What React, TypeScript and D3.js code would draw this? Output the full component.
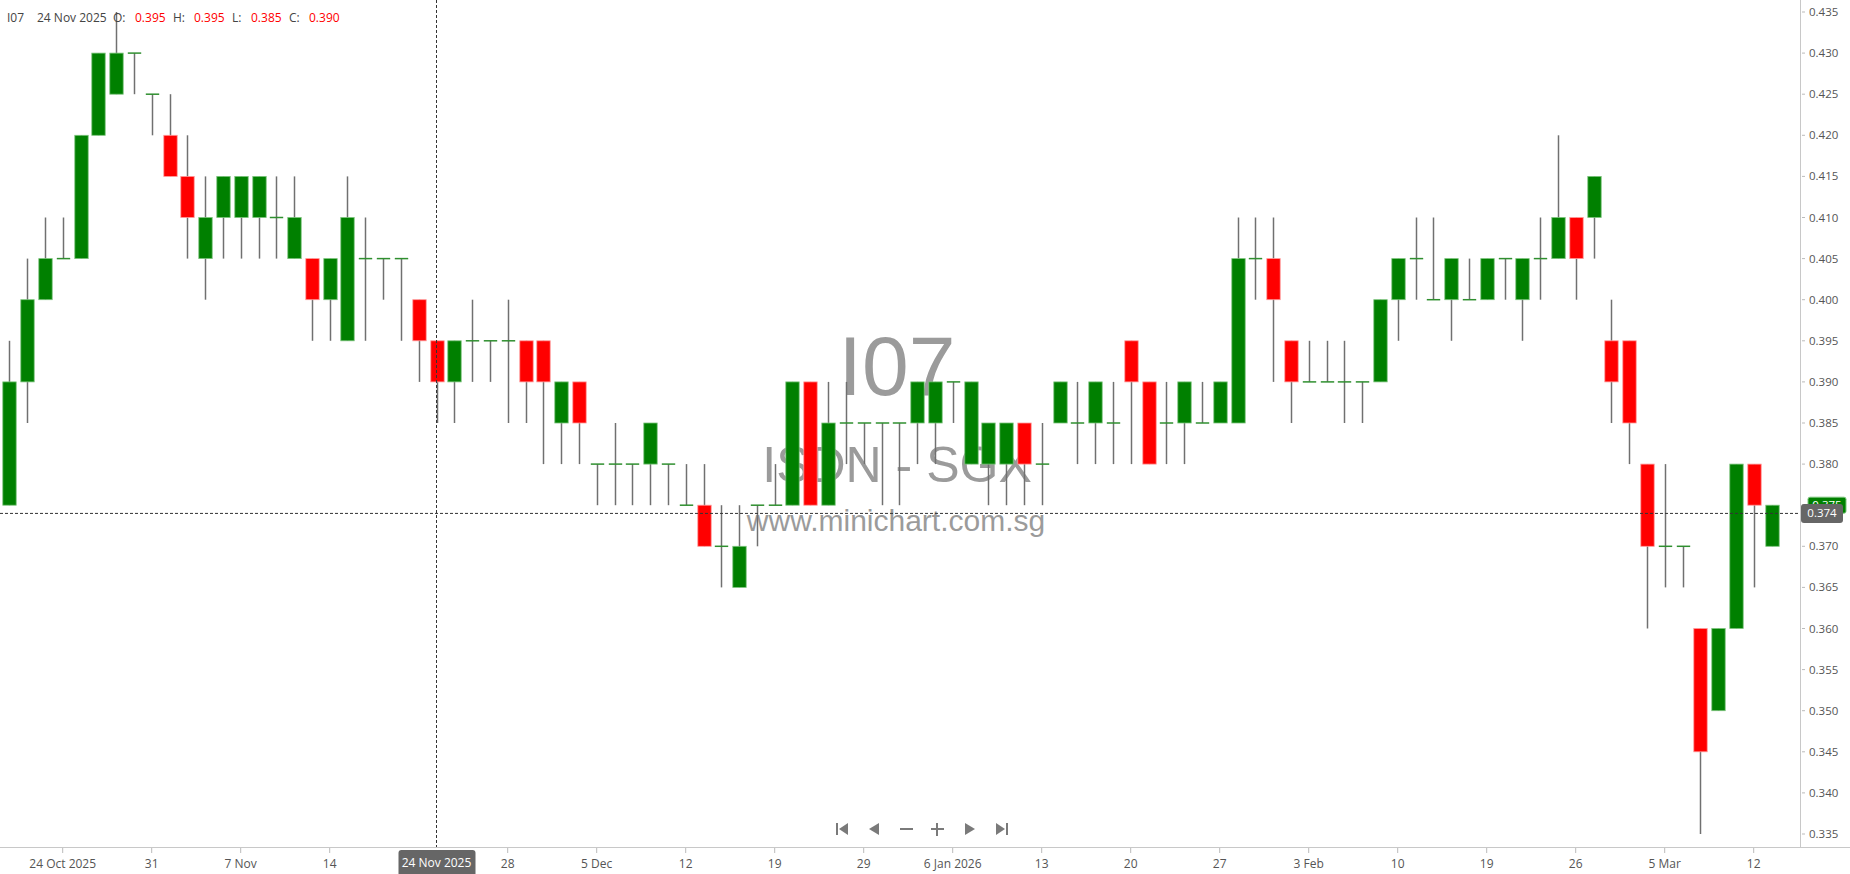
import React from "react";
import * as d3 from "d3";

// ---- data ----
const dates: string[] = [
  "2025-10-21","2025-10-22","2025-10-23","2025-10-24","2025-10-27","2025-10-28","2025-10-29","2025-10-30","2025-10-31",
  "2025-11-03","2025-11-04","2025-11-05","2025-11-06","2025-11-07","2025-11-10","2025-11-11","2025-11-12","2025-11-13","2025-11-14",
  "2025-11-17","2025-11-18","2025-11-19","2025-11-20","2025-11-21","2025-11-24","2025-11-25","2025-11-26","2025-11-27","2025-11-28",
  "2025-12-01","2025-12-02","2025-12-03","2025-12-04","2025-12-05","2025-12-08","2025-12-09","2025-12-10","2025-12-11","2025-12-12",
  "2025-12-15","2025-12-16","2025-12-17","2025-12-18","2025-12-19","2025-12-22","2025-12-23","2025-12-24","2025-12-26",
  "2025-12-29","2025-12-30","2025-12-31","2026-01-02","2026-01-05","2026-01-06","2026-01-07","2026-01-08","2026-01-09",
  "2026-01-12","2026-01-13","2026-01-14","2026-01-15","2026-01-16","2026-01-19","2026-01-20","2026-01-21","2026-01-22","2026-01-23",
  "2026-01-26","2026-01-27","2026-01-28","2026-01-29","2026-01-30","2026-02-02","2026-02-03","2026-02-04","2026-02-05","2026-02-06",
  "2026-02-09","2026-02-10","2026-02-11","2026-02-12","2026-02-13","2026-02-16","2026-02-19","2026-02-20",
  "2026-02-23","2026-02-24","2026-02-25","2026-02-26","2026-02-27","2026-03-02","2026-03-03","2026-03-04","2026-03-05","2026-03-06",
  "2026-03-09","2026-03-10","2026-03-11","2026-03-12","2026-03-13",
];

const opens: number[] = [
  0.375,0.390,0.400,0.405,0.405,0.420,0.425,0.430,0.425,0.420,
  0.415,0.405,0.410,0.410,0.410,0.410,0.405,0.405,0.400,0.395,
  0.405,0.405,0.405,0.400,0.395,0.390,0.395,0.395,0.395,0.395,
  0.395,0.385,0.390,0.380,0.380,0.380,0.380,0.380,0.375,0.375,
  0.370,0.365,0.375,0.375,0.375,0.390,0.375,0.385,0.385,0.385,
  0.385,0.385,0.385,0.390,0.380,0.380,0.380,0.385,0.380,0.385,
  0.385,0.385,0.385,0.395,0.390,0.385,0.385,0.385,0.385,0.385,
  0.405,0.405,0.395,0.390,0.390,0.390,0.390,0.390,0.400,0.405,
  0.400,0.400,0.400,0.400,0.405,0.400,0.405,0.405,0.410,0.410,
  0.395,0.395,0.380,0.370,0.370,0.360,0.350,0.360,0.380,0.370,
];
const highs: number[] = [
  0.395,0.405,0.410,0.410,0.420,0.430,0.435,0.430,0.425,0.425,
  0.420,0.415,0.415,0.415,0.415,0.415,0.415,0.405,0.405,0.415,
  0.410,0.405,0.405,0.400,0.395,0.395,0.400,0.395,0.400,0.395,
  0.395,0.390,0.390,0.380,0.385,0.380,0.385,0.380,0.380,0.380,
  0.375,0.375,0.375,0.380,0.390,0.390,0.390,0.390,0.385,0.385,
  0.385,0.390,0.390,0.390,0.390,0.385,0.385,0.385,0.385,0.390,
  0.390,0.390,0.390,0.395,0.390,0.390,0.390,0.390,0.390,0.410,
  0.410,0.410,0.395,0.395,0.395,0.395,0.390,0.400,0.405,0.410,
  0.410,0.405,0.405,0.405,0.405,0.405,0.410,0.420,0.410,0.415,
  0.400,0.395,0.380,0.380,0.370,0.360,0.360,0.380,0.380,0.375,
];
const lows: number[] = [
  0.375,0.385,0.400,0.405,0.405,0.420,0.425,0.425,0.420,0.415,
  0.405,0.400,0.405,0.405,0.405,0.405,0.405,0.395,0.395,0.395,
  0.395,0.400,0.395,0.390,0.385,0.385,0.390,0.390,0.385,0.385,
  0.380,0.380,0.380,0.375,0.375,0.375,0.375,0.375,0.375,0.370,
  0.365,0.365,0.370,0.375,0.375,0.375,0.375,0.380,0.380,0.375,
  0.375,0.380,0.380,0.385,0.380,0.375,0.375,0.375,0.375,0.385,
  0.380,0.380,0.380,0.380,0.380,0.380,0.380,0.385,0.385,0.385,
  0.400,0.390,0.385,0.390,0.390,0.385,0.385,0.390,0.395,0.400,
  0.400,0.395,0.400,0.400,0.400,0.395,0.400,0.405,0.400,0.405,
  0.385,0.380,0.360,0.365,0.365,0.335,0.350,0.360,0.365,0.370,
];
const closes: number[] = [
  0.390,0.400,0.405,0.405,0.420,0.430,0.430,0.430,0.425,0.415,
  0.410,0.410,0.415,0.415,0.415,0.410,0.410,0.400,0.405,0.410,
  0.405,0.405,0.405,0.395,0.390,0.395,0.395,0.395,0.395,0.390,
  0.390,0.390,0.385,0.380,0.380,0.380,0.385,0.380,0.375,0.370,
  0.370,0.370,0.375,0.375,0.390,0.375,0.385,0.385,0.385,0.385,
  0.385,0.390,0.390,0.390,0.390,0.385,0.385,0.380,0.380,0.390,
  0.385,0.390,0.385,0.390,0.380,0.385,0.390,0.385,0.390,0.405,
  0.405,0.400,0.390,0.390,0.390,0.390,0.390,0.400,0.405,0.405,
  0.400,0.405,0.400,0.405,0.405,0.405,0.405,0.410,0.405,0.415,
  0.390,0.385,0.370,0.370,0.370,0.345,0.360,0.380,0.375,0.375,
];

const xTickIndex: number[] = [3, 8, 13, 18, 28, 33, 38, 43, 48, 53, 58, 63, 68, 73, 78, 83, 88, 93, 98];
const xTickLabels: string[] = ["24 Oct 2025","31","7 Nov","14","28","5 Dec","12","19","29","6 Jan 2026","13","20","27","3 Feb","10","19","26","5 Mar","12"];
const yTickValues: number[] = [0.435,0.430,0.425,0.420,0.415,0.410,0.405,0.400,0.395,0.390,0.385,0.380,0.375,0.370,0.365,0.360,0.355,0.350,0.345,0.340,0.335];

const symbol = "I07";
const exchangeName = "ISDN - SGX";
const siteName = "www.minichart.com.sg";
const crossIndex = 24;
const crossLabel = "24 Nov 2025";
const crossPrice = 0.374;

// ---- layout ----
const W = 1850;
const H = 874;
const plotRight = 1800;
const axisY = 847;
const FONT = "'Open Sans', 'Noto Sans', sans-serif";

export default function App() {
  const n = closes.length;
  const x = d3.scaleLinear().domain([0, n - 1]).range([9.3, 9.3 + (n - 1) * 17.8]);
  const y = d3.scaleLinear().domain([0.335, 0.435]).range([834, 12]);
  const bodyW = 13.4;
  const up = "#008000";
  const down = "#ff0000";
  const fmt = d3.format(".3f");

  const lastClose = closes[n - 1];
  const cx = x(crossIndex);
  const cy = y(crossPrice);

  const navY = 829;
  const navX = [842, 874, 906, 937, 970, 1002];
  const navCol = "#7a7a7a";

  return (
    <svg
      width={W}
      height={H}
      style={{ position: "absolute", left: 0, top: 0, background: "#fff" }}
      fontFamily={FONT}
    >
      <rect x={0} y={0} width={W} height={H} fill="#fff" />

      {/* watermark */}
      <g fill="#9b9b9b" textAnchor="middle">
        <text x={897} y={395} fontSize={84} fontFamily="Arial, 'Liberation Sans', sans-serif">{symbol}</text>
        <text x={897} y={482} fontSize={50} fontFamily="Arial, 'Liberation Sans', sans-serif">{exchangeName}</text>
        <text x={896} y={531} fontSize={30} fontFamily="Arial, 'Liberation Sans', sans-serif">{siteName}</text>
      </g>

      {/* candles */}
      <g>
        {closes.map((c, i) => {
          const o = opens[i];
          const hi = highs[i];
          const lo = lows[i];
          const xc = Math.round(x(i)) + 0.5;
          const isDoji = o === c;
          const isUp = c > o;
          const top = y(Math.max(o, c));
          const bot = y(Math.min(o, c));
          return (
            <g key={dates[i]}>
              <line x1={xc} x2={xc} y1={y(hi)} y2={y(lo)} stroke="#707070" strokeWidth={1.5} />
              {isDoji ? (
                <line x1={xc - bodyW / 2} x2={xc + bodyW / 2} y1={top} y2={top} stroke="#2f8f2f" strokeWidth={1.5} />
              ) : (
                <rect
                  x={xc - bodyW / 2}
                  y={top}
                  width={bodyW}
                  height={bot - top}
                  fill={isUp ? up : down}
                  stroke={isUp ? "#7cc47c" : "#ff9a9a"}
                  strokeWidth={0.8}
                />
              )}
            </g>
          );
        })}
      </g>

      {/* y axis */}
      <line x1={plotRight + 0.5} x2={plotRight + 0.5} y1={0} y2={axisY} stroke="#c8c8c8" strokeWidth={1} />
      <g fontSize={11.5} fill="#555">
        {yTickValues.map((v) => (
          <g key={v}>
            <line x1={plotRight + 2} x2={plotRight + 5} y1={y(v)} y2={y(v)} stroke="#bbb" strokeWidth={1} />
            <text x={plotRight + 9} y={y(v)} dy="0.35em">{fmt(v)}</text>
          </g>
        ))}
      </g>

      {/* x axis */}
      <line x1={0} x2={W} y1={axisY + 0.5} y2={axisY + 0.5} stroke="#c8c8c8" strokeWidth={1} />
      <g fontSize={12} fill="#555" textAnchor="middle">
        {xTickIndex.map((idx, k) => (
          <g key={k}>
            <line x1={x(idx)} x2={x(idx)} y1={axisY + 1} y2={axisY + 6} stroke="#bbb" strokeWidth={1} />
            <text x={x(idx)} y={868}>{xTickLabels[k]}</text>
          </g>
        ))}
      </g>

      {/* last price label (green, behind) */}
      <rect x={1808} y={y(lastClose) - 8} width={38} height={16} rx={2} fill={up} stroke="#7cc47c" />
      <text x={1827} y={y(lastClose)} dy="0.35em" fontSize={11.5} fill="#fff" textAnchor="middle">{fmt(lastClose)}</text>

      {/* crosshair */}
      <line x1={0} x2={plotRight} y1={cy} y2={cy} stroke="#333" strokeWidth={1} strokeDasharray="3,2" />
      <line x1={cx} x2={cx} y1={0} y2={axisY} stroke="#333" strokeWidth={1} strokeDasharray="3,2" />
      <rect x={1801} y={cy - 9.5} width={42} height={19} rx={3} fill="#666" />
      <text x={1822} y={cy} dy="0.35em" fontSize={11.5} fill="#fff" textAnchor="middle">{fmt(crossPrice)}</text>
      <rect x={cx - 38} y={850} width={77} height={28} rx={3} fill="#666" />
      <text x={cx} y={867} fontSize={12} fill="#fff" textAnchor="middle">{crossLabel}</text>

      {/* header */}
      <g fontSize={12} fill="#444">
        <text x={7} y={22}>{symbol}</text>
        <text x={37} y={22}>{crossLabel}</text>
        <text x={113} y={22}>O:</text>
        <text x={135} y={22} fill="#ff0000">{fmt(opens[crossIndex])}</text>
        <text x={173} y={22}>H:</text>
        <text x={194} y={22} fill="#ff0000">{fmt(highs[crossIndex])}</text>
        <text x={232} y={22}>L:</text>
        <text x={251} y={22} fill="#ff0000">{fmt(lows[crossIndex])}</text>
        <text x={289} y={22}>C:</text>
        <text x={309} y={22} fill="#ff0000">{fmt(closes[crossIndex])}</text>
      </g>

      {/* navigation buttons */}
      <g fill={navCol} stroke="none">
        <rect x={navX[0] - 6} y={navY - 6} width={2} height={12} />
        <path d={`M${navX[0] + 6},${navY - 6} L${navX[0] - 3},${navY} L${navX[0] + 6},${navY + 6} Z`} />
        <path d={`M${navX[1] + 5},${navY - 6} L${navX[1] - 5},${navY} L${navX[1] + 5},${navY + 6} Z`} />
        <rect x={navX[2] - 6} y={navY - 1} width={13} height={2} />
        <rect x={navX[3] - 6} y={navY - 1} width={13} height={2} />
        <rect x={navX[3] - 1} y={navY - 6} width={2} height={13} />
        <path d={`M${navX[4] - 5},${navY - 6} L${navX[4] + 5},${navY} L${navX[4] - 5},${navY + 6} Z`} />
        <path d={`M${navX[5] - 6},${navY - 6} L${navX[5] + 3},${navY} L${navX[5] - 6},${navY + 6} Z`} />
        <rect x={navX[5] + 4} y={navY - 6} width={2} height={12} />
      </g>
    </svg>
  );
}
